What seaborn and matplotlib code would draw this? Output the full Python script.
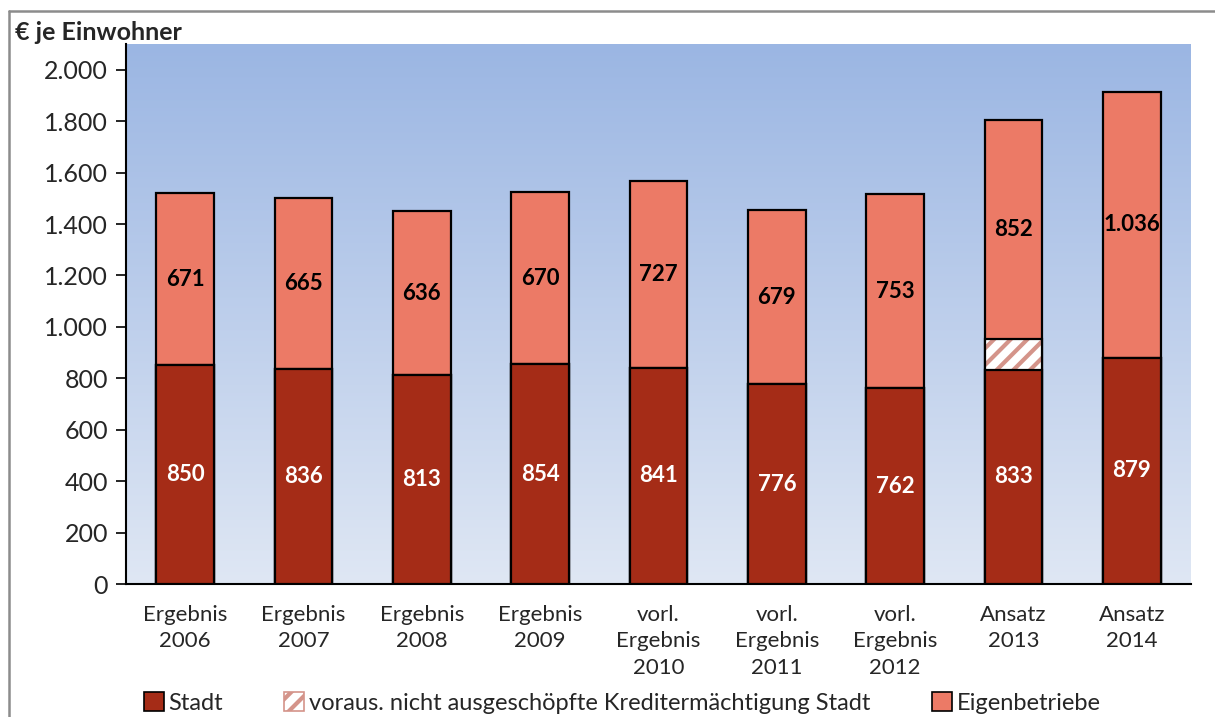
import numpy as np
import matplotlib
matplotlib.use("Agg")
import matplotlib.pyplot as plt
from matplotlib.patches import Patch
from matplotlib.lines import Line2D
from matplotlib.colors import LinearSegmentedColormap
import seaborn as sns

# Schulden je Einwohner (EUR)
categories = ["Ergebnis\n2006", "Ergebnis\n2007", "Ergebnis\n2008", "Ergebnis\n2009",
              "vorl.\nErgebnis\n2010", "vorl.\nErgebnis\n2011", "vorl.\nErgebnis\n2012",
              "Ansatz\n2013", "Ansatz\n2014"]
stadt = [850, 836, 813, 854, 841, 776, 762, 833, 879]
kredit = [0, 0, 0, 0, 0, 0, 0, 118, 0]
eigenbetriebe = [671, 665, 636, 670, 727, 679, 753, 852, 1036]
y_ticks = [0, 200, 400, 600, 800, 1000, 1200, 1400, 1600, 1800, 2000]

sns.set_theme(style="white")
plt.rcParams["font.family"] = ["Lato", "DejaVu Sans"]
plt.rcParams["hatch.linewidth"] = 3.0

C_STADT = "#A52C17"
C_EIGEN = "#EC7A66"
C_HATCH = "#D4948A"

stadt_a = np.array(stadt, dtype=float)
kredit_a = np.array(kredit, dtype=float)
eigen_a = np.array(eigenbetriebe, dtype=float)
lower = stadt_a + kredit_a
total = lower + eigen_a

fig = plt.figure(figsize=(12.15, 7.17), dpi=100)
ax = fig.add_axes([126 / 1215, 1 - 584 / 717, (1191 - 126) / 1215, (584 - 44) / 717])

# vertical gradient background
grad = LinearSegmentedColormap.from_list("bg", ["#DFE7F4", "#9BB6E3"])
ax.imshow(np.linspace(0, 1, 256).reshape(-1, 1), cmap=grad, origin="lower",
          extent=[0, 1, 0, 1], transform=ax.transAxes, aspect="auto", zorder=0)

bw = 0.49
sns.barplot(x=categories, y=total, color=C_EIGEN, saturation=1, width=bw,
            edgecolor="black", linewidth=1.6, ax=ax, zorder=2)
sns.barplot(x=categories, y=lower, color="white", saturation=1, width=bw,
            edgecolor=C_HATCH, linewidth=0, hatch="//", ax=ax, zorder=3)
sns.barplot(x=categories, y=lower, color="black", fill=False, width=bw,
            linewidth=1.6, ax=ax, zorder=4)
sns.barplot(x=categories, y=stadt_a, color=C_STADT, saturation=1, width=bw,
            edgecolor="black", linewidth=1.6, ax=ax, zorder=5)


def fmt(v):
    return f"{int(round(v)):,}".replace(",", ".")


for i in range(len(categories)):
    ax.text(i, stadt_a[i] / 2, fmt(stadt_a[i]), ha="center", va="center",
            color="white", fontsize=16, fontweight="bold", zorder=6)
    ax.text(i, lower[i] + eigen_a[i] / 2, fmt(eigen_a[i]), ha="center", va="center",
            color="black", fontsize=16, fontweight="bold", zorder=6)

ax.set_xlim(-0.5, len(categories) - 0.5)
ax.set_ylim(0, 2100)
ax.set_yticks(y_ticks)
ax.set_yticklabels([fmt(v) for v in y_ticks], fontsize=18)
ax.set_xlabel("")
ax.set_ylabel("")

ax.set_xticks(range(len(categories)))
ax.set_xticklabels(categories, fontsize=16, linespacing=1.4, va="top")
ax.set_xticks(np.arange(-0.5, len(categories), 1.0), minor=True)
ax.tick_params(axis="x", which="major", length=0, pad=15)
ax.tick_params(axis="x", which="minor", length=9, width=1.2, color="black", direction="out")
ax.tick_params(axis="y", which="major", length=7, width=1.2, color="black",
               direction="out", pad=6, left=True)

for s in ["top", "right"]:
    ax.spines[s].set_visible(False)
for s in ["left", "bottom"]:
    ax.spines[s].set_color("black")
    ax.spines[s].set_linewidth(1.5)

fig.text(15 / 1215, 1 - 33 / 717, "€ je Einwohner", fontsize=18, fontweight="bold",
         ha="left", va="center")

handles = [
    Patch(facecolor=C_STADT, edgecolor="black", linewidth=1.2),
    Patch(facecolor="white", edgecolor=C_HATCH, hatch="//", linewidth=1.2),
    Patch(facecolor=C_EIGEN, edgecolor="black", linewidth=1.2),
]
labels = ["Stadt", "voraus. nicht ausgeschöpfte Kreditermächtigung Stadt", "Eigenbetriebe"]
fig.legend(handles, labels, loc="center", bbox_to_anchor=(0.512, 1 - 703 / 717),
           ncol=3, frameon=False, fontsize=17, handlelength=0.85, handleheight=0.85,
           handletextpad=0.2, columnspacing=2.6, borderaxespad=0)

# outer frame
fig.add_artist(Line2D([9 / 1215, 1.0], [1 - 11 / 717, 1 - 11 / 717],
                      transform=fig.transFigure, color="#8C8C8C", linewidth=1.8))
fig.add_artist(Line2D([9 / 1215, 9 / 1215], [0.0, 1 - 11 / 717],
                      transform=fig.transFigure, color="#8C8C8C", linewidth=1.8))

fig.savefig("out.png", dpi=100)
